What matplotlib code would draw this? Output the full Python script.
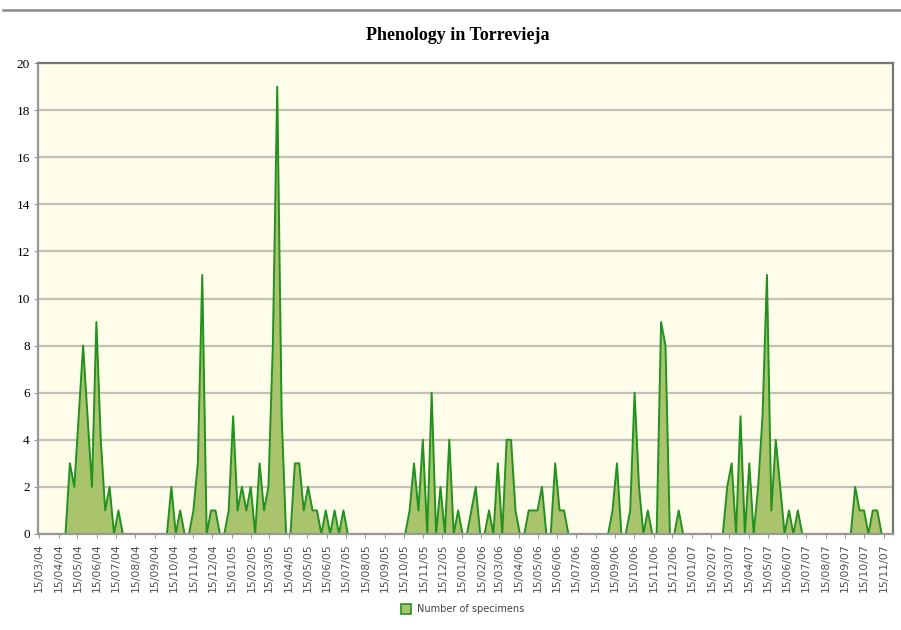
import numpy as np
import pandas as pd
import matplotlib
matplotlib.use("Agg")
import matplotlib.pyplot as plt
import matplotlib.dates as mdates
from matplotlib.lines import Line2D

# weekly counts, first sample on 15/03/04
counts = [
    0, 0, 0, 0, 0, 0, 0, 3, 2, 5, 8, 5, 2, 9, 4, 1, 2, 0, 1, 0,
    0, 0, 0, 0, 0, 0, 0, 0, 0, 0, 2, 0, 1, 0, 0, 1, 3, 11, 0, 1,
    1, 0, 0, 1, 5, 1, 2, 1, 2, 0, 3, 1, 2, 8, 19, 5, 0, 0, 3, 3,
    1, 2, 1, 1, 0, 1, 0, 1, 0, 1, 0, 0, 0, 0, 0, 0, 0, 0, 0, 0,
    0, 0, 0, 0, 1, 3, 1, 4, 0, 6, 0, 2, 0, 4, 0, 1, 0, 0, 1, 2,
    0, 0, 1, 0, 3, 0, 4, 4, 1, 0, 0, 1, 1, 1, 2, 0, 0, 3, 1, 1,
    0, 0, 0, 0, 0, 0, 0, 0, 0, 0, 1, 3, 0, 0, 1, 6, 2, 0, 1, 0,
    0, 9, 8, 0, 0, 1, 0, 0, 0, 0, 0, 0, 0, 0, 0, 0, 2, 3, 0, 5,
    0, 3, 0, 2, 5, 11, 1, 4, 2, 0, 1, 0, 1, 0, 0, 0, 0, 0, 0, 0,
    0, 0, 0, 0, 0, 2, 1, 1, 0, 1, 1, 0, 0, 0,
]
start = "2004-03-15"
tick_end = "2007-11-15"
series_name = "Number of specimens"
title = "Phenology in Torrevieja"

dates = pd.date_range(start, periods=len(counts), freq="7D")
ticks = pd.date_range(start, tick_end, freq="MS") + pd.Timedelta(days=14)
ticks = [pd.Timestamp(start)] + [t for t in ticks if t > pd.Timestamp(start)]

fill_col = "#a9c46c"
line_col = "#22911f"
grid_col = "#c4c2b8"

fig = plt.figure(figsize=(9.01, 6.3), dpi=100)
ax = fig.add_axes([38 / 901, 1 - 534 / 630, (893 - 38) / 901, (534 - 63) / 630])
ax.set_facecolor("#fefde9")

ax.fill_between(dates, counts, 0, color=fill_col, linewidth=0, label=series_name)
ax.plot(dates, counts, color=line_col, linewidth=1.4)

t0 = pd.Timestamp(start)
ax.set_xlim(t0 - pd.Timedelta(days=1.6), t0 + pd.Timedelta(days=1355))
ax.set_ylim(0, 20)
ax.set_yticks(np.arange(0, 21, 2))
ax.yaxis.grid(True, color=grid_col, linewidth=1.6)
ax.set_axisbelow(True)

ax.set_xticks(ticks)
ax.xaxis.set_major_formatter(mdates.DateFormatter("%d/%m/%y"))
plt.setp(ax.get_xticklabels(), rotation=90, fontsize=7.8, color="#505050")
for lab in ax.get_yticklabels():
    lab.set_fontfamily("Liberation Serif")
    lab.set_fontsize(9.5)
ax.tick_params(axis="x", length=3, color="#999999", pad=4)
ax.tick_params(axis="y", length=3, color="#999999", pad=3)

for side in ["left", "bottom"]:
    ax.spines[side].set_color("#999999")
    ax.spines[side].set_linewidth(1.6)
for side in ["top", "right"]:
    ax.spines[side].set_color("#777777")
    ax.spines[side].set_linewidth(1.6)

fig.text(458 / 901, 1 - 36 / 630, title, ha="center", va="center",
         fontfamily="Liberation Serif", fontweight="bold", fontsize=13)

handle = Line2D([], [], marker="s", linestyle="none", markersize=7,
                markerfacecolor=fill_col, markeredgecolor=line_col, markeredgewidth=1.2)
fig.legend([handle], [series_name], loc="center", bbox_to_anchor=(460 / 901, 1 - 609 / 630),
           frameon=False, fontsize=7, handletextpad=0.1, labelcolor="#444444")

fig.add_artist(Line2D([3 / 901, 1], [1 - 10 / 630, 1 - 10 / 630], color="#8a8a8a", linewidth=1.8))

fig.savefig("out.png", dpi=100)
